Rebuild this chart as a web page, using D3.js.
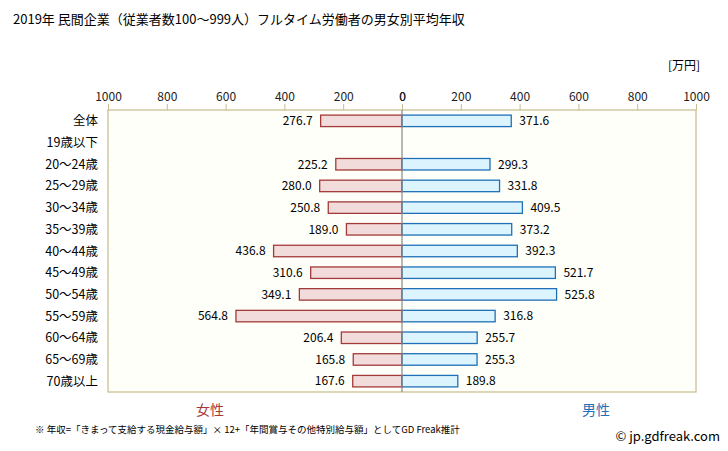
<!DOCTYPE html>
<html><head><meta charset="utf-8">
<script src="https://cdn.jsdelivr.net/npm/d3@7"></script>
<style>body{margin:0;background:#fff;} text{font-family:"Noto Sans CJK JP","Noto Sans",sans-serif;}</style>
</head><body><svg id="c" width="728" height="451"></svg>
<script>
const categories = ["全体","19歳以下","20～24歳","25～29歳","30～34歳","35～39歳","40～44歳","45～49歳","50～54歳","55～59歳","60～64歳","65～69歳","70歳以上"];
const female = [276.7,null,225.2,280.0,250.8,189.0,436.8,310.6,349.1,564.8,206.4,165.8,167.6];
const male = [371.6,null,299.3,331.8,409.5,373.2,392.3,521.7,525.8,316.8,255.7,255.3,189.8];
const ticks = [0,200,400,600,800,1000];

const svg = d3.select("#c");
const L = 108, R = 696, T = 110, B = 392, Z = 402;
const xF = d3.scaleLinear().domain([0,1000]).range([Z, L]);
const xM = d3.scaleLinear().domain([0,1000]).range([Z, R]);
const y = d3.scaleBand().domain(categories).range([T, B]).paddingInner(0.47).paddingOuter(0.235);

svg.append("text").attr("x",13).attr("y",24).attr("font-size",13).text("2019年 民間企業（従業者数100～999人）フルタイム労働者の男女別平均年収");
svg.append("text").attr("x",700).attr("y",70).attr("text-anchor","end").attr("font-size",12).text("[万円]");

svg.append("rect").attr("x",L).attr("y",T).attr("width",R-L).attr("height",B-T).attr("fill","#fffffa").attr("stroke","#c8bb8e").attr("stroke-width",1.2);

const axF = d3.axisTop(xF).tickValues(ticks).tickFormat(d3.format("d")).tickSize(6).tickPadding(3);
const axM = d3.axisTop(xM).tickValues(ticks).tickFormat(d3.format("d")).tickSize(6).tickPadding(3);
[axF, axM].forEach(ax => {
  const g = svg.append("g").attr("transform",`translate(0,${T})`).call(ax);
  g.select(".domain").remove();
  g.selectAll("line").attr("stroke","#c8bb8e");
  g.selectAll("text").attr("font-size",12).attr("fill","#222").attr("font-family","\"Noto Sans\",sans-serif");
});

svg.append("g").selectAll("rect").data(categories.map((c,i)=>({c,v:female[i]})).filter(d=>d.v!=null))
 .join("rect").attr("x",d=>xF(d.v)).attr("y",d=>y(d.c)).attr("width",d=>Z-xF(d.v)).attr("height",y.bandwidth())
 .attr("fill","#f2dcdb").attr("stroke","#a33a3a").attr("stroke-width",1.3);
svg.append("g").selectAll("rect").data(categories.map((c,i)=>({c,v:male[i]})).filter(d=>d.v!=null))
 .join("rect").attr("x",Z).attr("y",d=>y(d.c)).attr("width",d=>xM(d.v)-Z).attr("height",y.bandwidth())
 .attr("fill","#dcf4fd").attr("stroke","#1f70b8").attr("stroke-width",1.3);

svg.append("line").attr("x1",Z).attr("x2",Z).attr("y1",T).attr("y2",B).attr("stroke","#888").attr("stroke-width",1.2);

svg.append("g").selectAll("text").data(categories.map((c,i)=>({c,v:female[i]})).filter(d=>d.v!=null))
 .join("text").attr("x",d=>xF(d.v)-8).attr("y",d=>y(d.c)+y.bandwidth()/2).attr("dy","0.36em").attr("text-anchor","end")
 .attr("font-size",12).attr("font-family","\"Noto Sans\",sans-serif").text(d=>d.v.toFixed(1));
svg.append("g").selectAll("text").data(categories.map((c,i)=>({c,v:male[i]})).filter(d=>d.v!=null))
 .join("text").attr("x",d=>xM(d.v)+8).attr("y",d=>y(d.c)+y.bandwidth()/2).attr("dy","0.36em")
 .attr("font-size",12).attr("font-family","\"Noto Sans\",sans-serif").text(d=>d.v.toFixed(1));

svg.append("g").selectAll("text").data(categories).join("text")
 .attr("x",98).attr("y",d=>y(d)+y.bandwidth()/2).attr("dy","0.36em").attr("text-anchor","end").attr("font-size",12.5).text(d=>d);

svg.append("text").attr("x",210).attr("y",415).attr("text-anchor","middle").attr("font-size",14).attr("fill","#a33a3a").text("女性");
svg.append("text").attr("x",596).attr("y",415).attr("text-anchor","middle").attr("font-size",14).attr("fill","#1f70b8").text("男性");
svg.append("text").attr("x",35).attr("y",433).attr("font-size",9.5).text("※ 年収=「きまって支給する現金給与額」× 12+「年間賞与その他特別給与額」としてGD Freak推計");
svg.append("text").attr("x",720).attr("y",441).attr("text-anchor","end").attr("font-size",13).attr("font-family","\"Open Sans\",sans-serif").text("© jp.gdfreak.com");
</script></body></html>
